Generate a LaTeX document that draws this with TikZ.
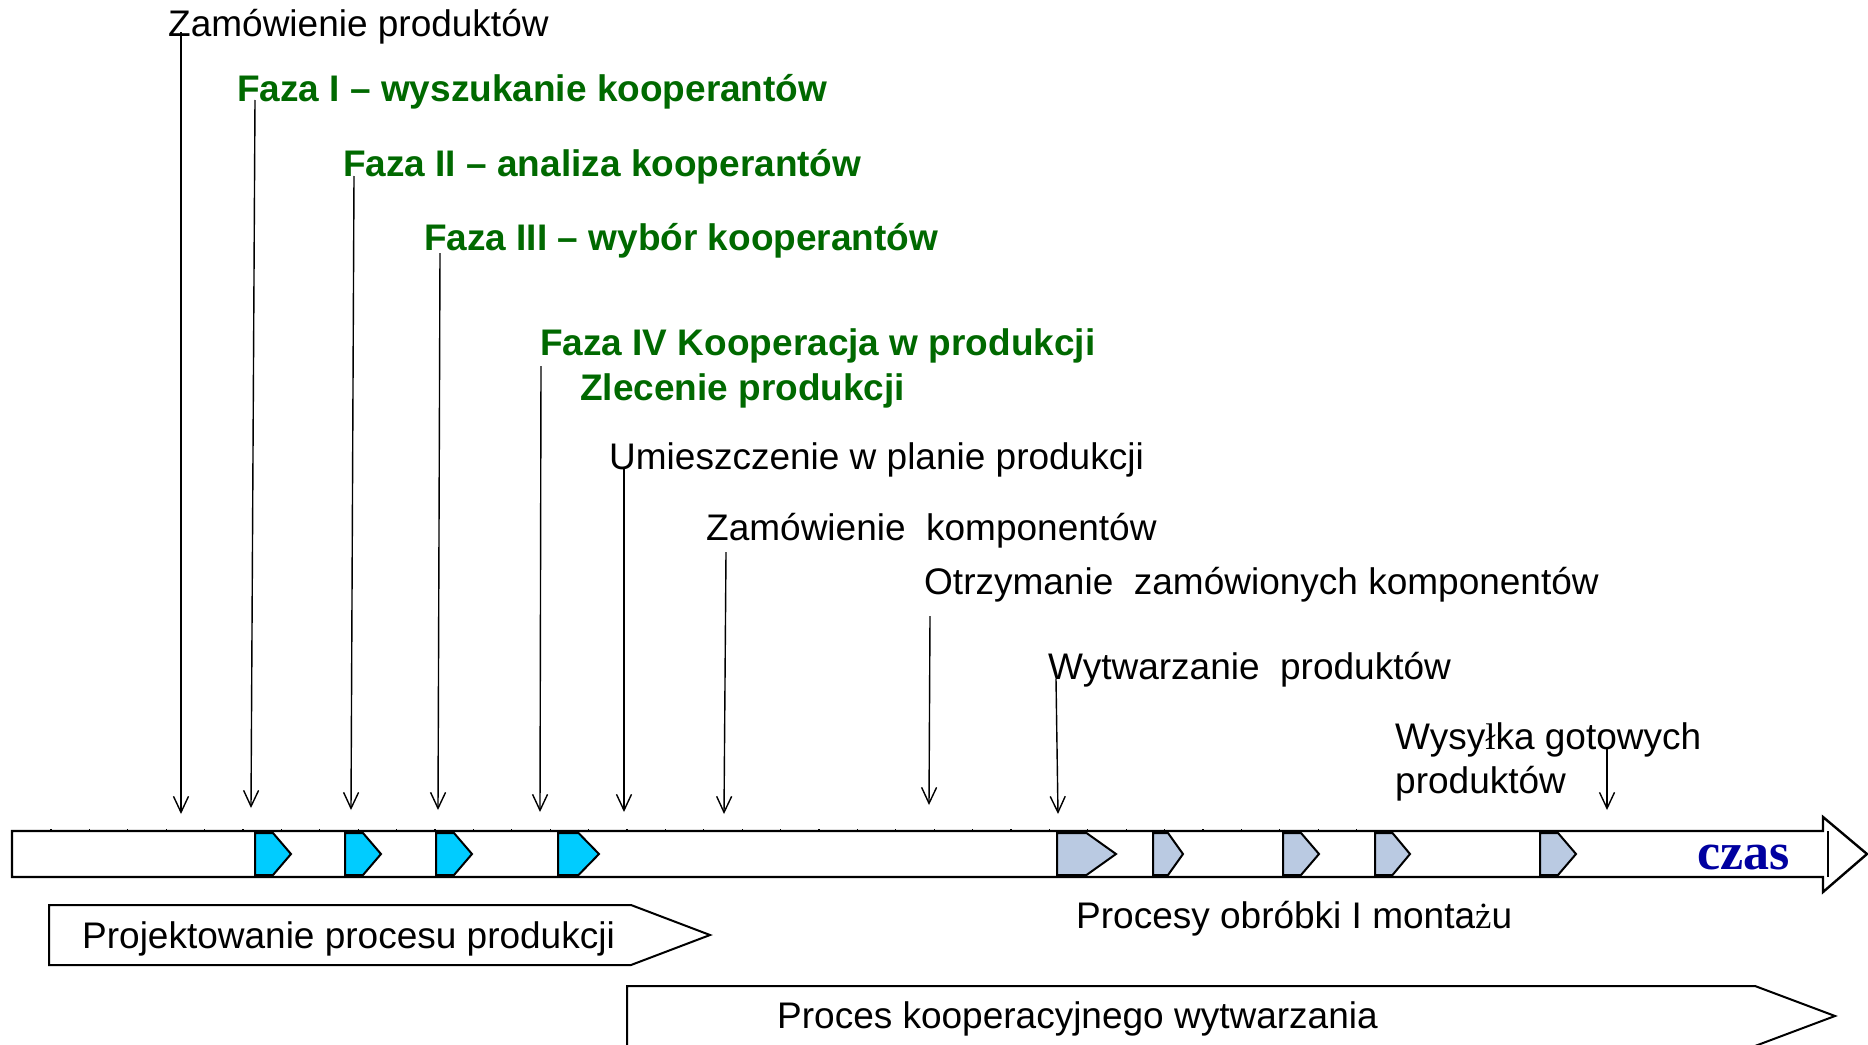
\documentclass[tikz,border=0pt]{standalone}
\usepackage{fontspec}
\setmainfont{Liberation Sans}
\newfontfamily\serifrm{Liberation Serif}
\usetikzlibrary{arrows.meta}
\definecolor{fazagreen}{RGB}{0,105,0}
\definecolor{navyczas}{RGB}{0,0,160}
\definecolor{cyanmark}{RGB}{0,204,255}
\definecolor{greymark}{RGB}{186,202,226}
\newcommand{\pentmark}[3]{\draw[pentline,fill=#3] (#1,833) -- ({#1+0.5*(#2-#1)},833) -- (#2,854) -- ({#1+0.5*(#2-#1)},875) -- (#1,875) -- cycle;}
\begin{document}
\begin{tikzpicture}[x=1pt,y=-1pt,
  lbl/.style={anchor=base west, inner sep=0pt, font=\fontsize{37}{44}\selectfont},
  faza/.style={anchor=base west, inner sep=0pt, font=\fontsize{37}{44}\selectfont\bfseries, text=fazagreen},
  pointer/.style={line width=1.4pt, -{Straight Barb[length=16pt,width=15pt,line width=1.4pt]}},
  pentline/.style={line width=2pt, line join=miter},
  process/.style={line width=2pt, line join=miter},
]
\useasboundingbox (0,0) rectangle (1868,1044);
\fill[white] (0,0) rectangle (1868,1044);

% time bar
\draw[line width=2.4pt, line join=miter] (12,831) -- (1823,831) -- (1823,817) -- (1867,854) -- (1823,892) -- (1823,877) -- (12,877) -- cycle;
\draw[line width=2.2pt] (1828,831) -- (1828,877);
\foreach \i in {0,...,34} \draw[line width=1.2pt] ({51+38.4*\i},831) -- ++(0,-2);

% markers
\pentmark{255}{291}{cyanmark}
\pentmark{345}{381}{cyanmark}
\pentmark{436}{472}{cyanmark}
\pentmark{558}{599}{cyanmark}
\pentmark{1057}{1116}{greymark}
\pentmark{1153}{1183}{greymark}
\pentmark{1283}{1319}{greymark}
\pentmark{1375}{1410}{greymark}
\pentmark{1540}{1576}{greymark}

\node[anchor=base east, inner sep=0pt, font=\serifrm\fontsize{52}{60}\selectfont\bfseries, text=navyczas] (czas) at (1790,869) {czas};

% labels
\node[lbl] (t1) at (168,36) {Zamówienie produktów};
\node[faza] (t2) at (237,101) {Faza I – wyszukanie kooperantów};
\node[faza] (t3) at (343,176) {Faza II – analiza kooperantów};
\node[faza] (t4) at (424,250) {Faza III – wybór kooperantów};
\node[faza] (t5) at (540,355) {Faza IV Kooperacja w produkcji};
\node[faza] (t5b) at (580,400) {Zlecenie produkcji};
\node[lbl] (t6) at (609,469) {Umieszczenie w planie produkcji};
\node[lbl] (t7) at (706,540) {Zamówienie\ \ komponentów};
\node[lbl] (t8) at (924,594) {Otrzymanie\ \ zamówionych komponentów};
\node[lbl] (t9) at (1048,679) {Wytwarzanie\ \ produktów};
\node[lbl] (t10) at (1395,749) {Wysy{\serifrm ł}ka gotowych};
\node[lbl] (t10b) at (1395,793) {produktów};
\node[lbl] (proc) at (1076,928) {Procesy obróbki I monta{\serifrm ż}u};

% pointer coordinates
\coordinate (s1) at (181,32);   \coordinate (e1) at (181,814);
\coordinate (s2) at (255,100);  \coordinate (e2) at (251,808);
\coordinate (s3) at (354,176);  \coordinate (e3) at (351,810);
\coordinate (s4) at (440,253);  \coordinate (e4) at (438,810);
\coordinate (s5) at (541,366);  \coordinate (e5) at (540,812);
\coordinate (s6) at (624,468);  \coordinate (e6) at (624,812);
\coordinate (s7) at (726,552);  \coordinate (e7) at (724,814);
\coordinate (s8) at (930,616);  \coordinate (e8) at (929,805);
\coordinate (s9) at (1056,679); \coordinate (e9) at (1058,814);
\coordinate (s10) at (1607,748);\coordinate (e10) at (1607,810);
\foreach \k in {1,...,10} \draw[pointer] (s\k) -- (e\k);

% process arrows
\draw[process] (49,905) -- (631,905) -- (710,935) -- (631,965) -- (49,965) -- cycle;
\node[lbl] (p1) at (82,948) {Projektowanie procesu produkcji};
\draw[process] (627,1048) -- (627,986) -- (1755,986) -- (1835,1016) -- (1755,1046) -- (1755,1048);
\node[lbl] (p2) at (777,1028) {Proces kooperacyjnego wytwarzania};
\end{tikzpicture}
\end{document}
